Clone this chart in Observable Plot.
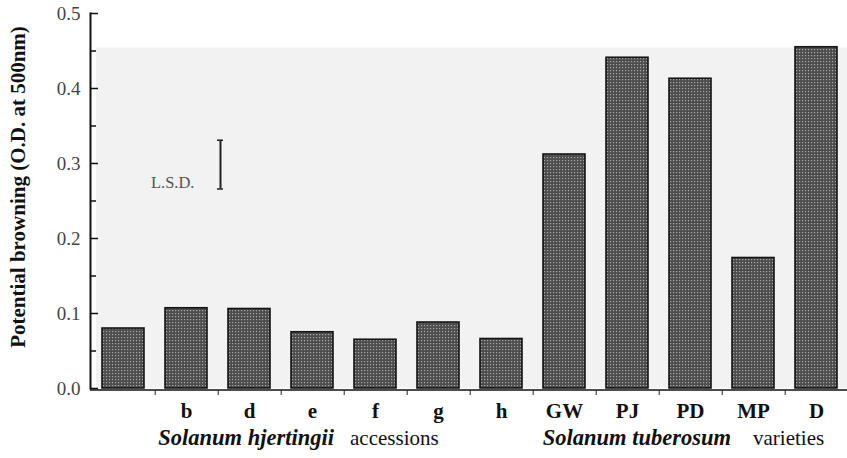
<!DOCTYPE html>
<html>
<head>
<meta charset="utf-8">
<script src="https://cdn.jsdelivr.net/npm/d3@7"></script>
<script src="https://cdn.jsdelivr.net/npm/@observablehq/plot@0.6"></script>
<style>
  html, body { margin: 0; padding: 0; background: #fff; }
  svg { display: block; }
</style>
</head>
<body>
<div id="chart"></div>
<script>
const categories = ["", "b", "d", "e", "f", "g", "h", "GW", "PJ", "PD", "MP", "D"];
const browning = [0.080, 0.107, 0.106, 0.075, 0.065, 0.088, 0.066, 0.312, 0.441, 0.413, 0.174, 0.455];
const yTicks = [0, 0.1, 0.2, 0.3, 0.4, 0.5];
const yMinorTicks = [0.05, 0.15, 0.25, 0.35, 0.45];
const lsdRange = [0.266, 0.331];
const lsdLabel = ["L.S.D."];
const yTitle = ["Potential browning (O.D. at 500nm)"];
const group1Species = ["Solanum hjertingii"];
const group1Kind = ["accessions"];
const group2Species = ["Solanum tuberosum"];
const group2Kind = ["varieties"];
const scanPageTop = [0.454];

const data = categories.map((c, i) => ({cat: c, value: browning[i]}));
const serif = "'Liberation Serif', 'DejaVu Serif', serif";
const W = 847, H = 458, ML = 90, MR = 0;
const frameW = W - ML - MR;

const plot = Plot.plot({
  width: W,
  height: H,
  marginLeft: ML,
  marginRight: MR,
  marginTop: 13,
  marginBottom: 70,
  style: {fontFamily: serif, background: "#fff"},
  x: {type: "band", domain: categories, range: [99, 839], paddingInner: 0.338, paddingOuter: 0, label: null},
  y: {domain: [0, 0.5], label: null},
  marks: [
    Plot.rect(scanPageTop, {y1: 0, y2: d => d, fill: "#f2f2f2", insetLeft: 6}),
    Plot.barY(data, {x: "cat", y: "value", fill: "url(#stipple)", stroke: "#141414", strokeWidth: 1.6}),
    Plot.frame({anchor: "left", stroke: "#111", strokeWidth: 2}),
    Plot.ruleY([0], {stroke: "#111", strokeWidth: 1.5, dy: 1.5}),
    Plot.ruleY(yTicks, {y: d => d, insetRight: frameW - 8, stroke: "#111", strokeWidth: 1.5}),
    Plot.ruleY(yMinorTicks, {y: d => d, insetRight: frameW - 6, stroke: "#111", strokeWidth: 1.5}),
    Plot.axisY(yTicks, {tickSize: 0, tickPadding: 10, tickFormat: d3.format(".1f"), fontSize: 19, fill: "#444", fontFamily: serif}),
    Plot.axisX({tickSize: 0, tickPadding: 15, fontSize: 21, fontWeight: "bold", fill: "#111", fontFamily: serif}),
    Plot.axisX(categories.slice(0, -1), {tickSize: 5, dx: 31.7, dy: 2, tickFormat: () => "", stroke: "#222"}),
    Plot.ruleX([lsdRange], {x: () => "b", y1: d => d[0], y2: d => d[1], dx: 34, stroke: "#222", strokeWidth: 2}),
    Plot.tickY(lsdRange, {x: () => "b", y: d => d, dx: 34, insetLeft: 18, insetRight: 18, stroke: "#222", strokeWidth: 1.5}),
    Plot.text(lsdLabel, {x: () => "b", y: () => (lsdRange[0] + lsdRange[1]) / 2, text: d => d, dx: 8, dy: 18, textAnchor: "end", fontSize: 16.5, fill: "#555", fontFamily: serif}),
    Plot.text(yTitle, {frameAnchor: "left", text: d => d, rotate: -90, textAnchor: "middle", dx: -72, dy: -14, fontSize: 21, fontWeight: "bold", fill: "#111", fontFamily: serif}),
    Plot.text(group1Species, {x: () => "e", frameAnchor: "bottom", text: d => d, dx: 21.5, dy: 56, textAnchor: "end", fontSize: 22.5, fontStyle: "italic", fontWeight: "bold", fill: "#111", fontFamily: serif}),
    Plot.text(group1Kind, {x: () => "e", frameAnchor: "bottom", text: d => d, dx: 37.5, dy: 56, textAnchor: "start", fontSize: 21, fill: "#111", fontFamily: serif}),
    Plot.text(group2Species, {x: () => "PD", frameAnchor: "bottom", text: d => d, dx: 40.5, dy: 56, textAnchor: "end", fontSize: 22.5, fontStyle: "italic", fontWeight: "bold", fill: "#111", fontFamily: serif}),
    Plot.text(group2Kind, {x: () => "PD", frameAnchor: "bottom", text: d => d, dx: 62.5, dy: 56, textAnchor: "start", fontSize: 21, fill: "#111", fontFamily: serif})
  ]
});

// stipple texture used by the bars
const ns = "http://www.w3.org/2000/svg";
const defs = document.createElementNS(ns, "defs");
const pat = document.createElementNS(ns, "pattern");
pat.setAttribute("id", "stipple");
pat.setAttribute("width", "3");
pat.setAttribute("height", "3");
pat.setAttribute("patternUnits", "userSpaceOnUse");
const bg = document.createElementNS(ns, "rect");
bg.setAttribute("width", "3"); bg.setAttribute("height", "3"); bg.setAttribute("fill", "#4d4d4d");
const dot = document.createElementNS(ns, "rect");
dot.setAttribute("x", "1"); dot.setAttribute("y", "1");
dot.setAttribute("width", "1.2"); dot.setAttribute("height", "1.2"); dot.setAttribute("fill", "#a8a8a8");
pat.appendChild(bg); pat.appendChild(dot); defs.appendChild(pat);
plot.insertBefore(defs, plot.firstChild);

document.getElementById("chart").appendChild(plot);
</script>
</body>
</html>
